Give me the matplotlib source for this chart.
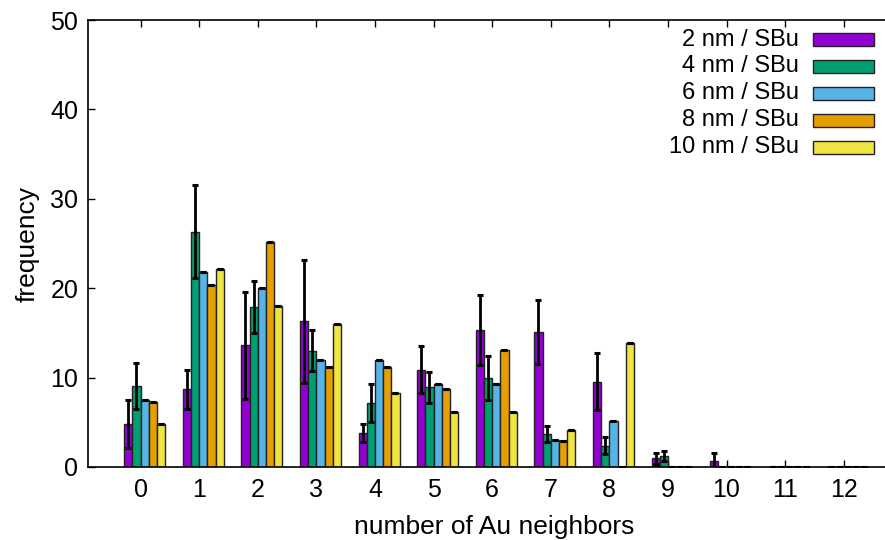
import matplotlib.pyplot as plt
from matplotlib.patches import Rectangle
import numpy as np

plt.rcParams['font.family'] = ['Liberation Sans', 'DejaVu Sans']

# number of Au neighbours on the x axis
neighbors = np.arange(13)

labels = ["2 nm / SBu", "4 nm / SBu", "6 nm / SBu", "8 nm / SBu", "10 nm / SBu"]
colors = ["#9400d3", "#009e73", "#56b4e9", "#e69f00", "#f0e442"]

freq_2nm = [4.8, 8.7, 13.6, 16.3, 3.8, 10.9, 15.3, 15.1, 9.55, 0.97, 0.7, 0, 0]
err_2nm = [2.7, 2.2, 6.0, 6.9, 1.0, 2.6, 3.9, 3.55, 3.2, 0.65, 0.9, 0, 0]
freq_4nm = [9.06, 26.3, 17.9, 13.0, 7.16, 8.9, 10.0, 3.7, 2.4, 1.23, 0, 0, 0]
err_4nm = [2.6, 5.2, 2.9, 2.3, 2.1, 1.7, 2.45, 0.9, 1.0, 0.58, 0, 0, 0]
freq_6nm = [7.5, 21.8, 20.0, 12.0, 12.0, 9.25, 9.25, 3.05, 5.15, 0, 0, 0, 0]
freq_8nm = [7.3, 20.4, 25.2, 11.15, 11.15, 8.7, 13.1, 2.9, 0, 0, 0, 0, 0]
freq_10nm = [4.8, 22.2, 18.0, 16.0, 8.3, 6.2, 6.2, 4.1, 13.9, 0, 0, 0, 0]

zeros = [0] * 13
series = [(freq_2nm, err_2nm), (freq_4nm, err_4nm), (freq_6nm, zeros),
          (freq_8nm, zeros), (freq_10nm, zeros)]

fig = plt.figure(figsize=(8.85, 5.4), dpi=100)
# right edge of the frame runs off the canvas
ax = fig.add_axes([88 / 885, 1 - 467 / 540, 812 / 885, 447 / 540])

w = 0.14
for i, ((vals, errs), c) in enumerate(zip(series, colors)):
    xs = neighbors + (i - 1.5) * w
    ax.bar(xs, vals, width=w, color=c, edgecolor="#222222", linewidth=1.0, zorder=2)
    ax.errorbar(xs, vals, yerr=errs, fmt="none", ecolor="black",
                elinewidth=2.0, capsize=2.5, capthick=2.2, zorder=3)

ax.set_xlim(-0.896, 12.96)
ax.set_ylim(0, 50)
ax.set_xticks(neighbors)
ax.set_yticks(np.arange(0, 51, 10))
ax.tick_params(direction="in", length=5, width=1, labelsize=18, top=True,
               right=True)
ax.tick_params(axis="x", pad=8)
ax.tick_params(axis="y", pad=7)
ax.set_axisbelow(True)
for s in ax.spines.values():
    s.set_linewidth(1.2)

ax.set_xlabel("number of Au neighbors", fontsize=19, labelpad=9)
ax.set_ylabel("frequency", fontsize=19, labelpad=8)

# key: right-aligned text followed by a colour box
for i, (lab, c) in enumerate(zip(labels, colors)):
    yc = 1 - (39.5 + i * 26.9) / 540
    fig.text(799 / 885, yc, lab, ha="right", va="center", fontsize=17)
    fig.add_artist(Rectangle((813 / 885, yc - 6.5 / 540), 61 / 885, 13 / 540,
                             transform=fig.transFigure, facecolor=c,
                             edgecolor="#222222", linewidth=1.0))

fig.savefig("out.png", dpi=100)
